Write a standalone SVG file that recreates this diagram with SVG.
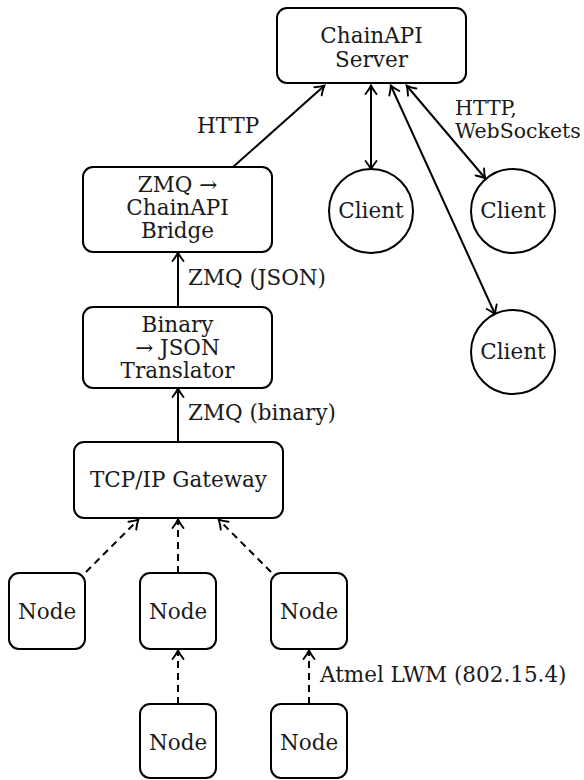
<svg xmlns="http://www.w3.org/2000/svg" width="584" height="780" viewBox="0 0 584 780">
<style>
.box{fill:#fff;stroke:#000;stroke-width:2}
.t{font-family:'DejaVu Serif', 'Liberation Serif', serif;font-size:21.5px;fill:#1a1a1a;text-anchor:middle}
.l{font-family:'DejaVu Serif', 'Liberation Serif', serif;font-size:21.5px;fill:#1a1a1a}
.s{font-size:20.5px}
.c{fill:none;stroke:#000;stroke-width:2}
.d{fill:none;stroke:#000;stroke-width:2;stroke-dasharray:7 5}
</style>
<defs>
<marker id="ah" markerUnits="userSpaceOnUse" markerWidth="16" markerHeight="16" refX="11" refY="8" orient="auto-start-reverse" viewBox="0 0 16 16">
<path d="M3 2.5 Q7.5 6.2 11.5 8 Q7.5 9.8 3 13.5" fill="none" stroke="#000" stroke-width="1.9" stroke-linecap="round"/>
</marker>
</defs>
<g id="connectors">
<line class="c" x1="233" y1="167" x2="324" y2="86" marker-end="url(#ah)"/>
<line class="c" x1="371" y1="86" x2="371" y2="169" marker-start="url(#ah)" marker-end="url(#ah)"/>
<line class="c" x1="407" y1="86" x2="485" y2="178" marker-start="url(#ah)" marker-end="url(#ah)"/>
<line class="c" x1="391" y1="86" x2="495" y2="314" marker-start="url(#ah)" marker-end="url(#ah)"/>
<line class="c" x1="178" y1="307" x2="178" y2="253" marker-end="url(#ah)"/>
<line class="c" x1="178" y1="442" x2="178" y2="389" marker-end="url(#ah)"/>
<line class="d" x1="86" y1="572" x2="138" y2="520" marker-end="url(#ah)"/>
<line class="d" x1="178" y1="573" x2="178" y2="520" marker-end="url(#ah)"/>
<line class="d" x1="271" y1="572" x2="219" y2="520" marker-end="url(#ah)"/>
<line class="d" x1="178" y1="704" x2="178" y2="651" marker-end="url(#ah)"/>
<line class="d" x1="309" y1="704" x2="309" y2="651" marker-end="url(#ah)"/>
<text class="l" x="197" y="133">HTTP</text>
<text class="l s" x="455" y="115">HTTP,</text>
<text class="l s" x="455" y="138">WebSockets</text>
<text class="l" x="188" y="285">ZMQ (JSON)</text>
<text class="l" x="188" y="420">ZMQ (binary)</text>
<text class="l" x="320" y="682">Atmel LWM (802.15.4)</text>
</g>
<g id="server">
<rect class="box" x="277" y="8" width="189" height="75" rx="10"/>
<text class="t" x="371.5" y="43">ChainAPI</text>
<text class="t" x="371.5" y="67">Server</text>
</g>
<g id="client1"><circle class="box" cx="371" cy="211" r="42"/><text class="t" x="371" y="218">Client</text></g>
<g id="client2"><circle class="box" cx="513" cy="211" r="42"/><text class="t" x="513" y="218">Client</text></g>
<g id="client3"><circle class="box" cx="513" cy="352" r="42"/><text class="t" x="513" y="359">Client</text></g>
<g id="bridge">
<rect class="box" x="83" y="167" width="189" height="85" rx="10"/>
<text class="t" x="177.5" y="192">ZMQ →</text>
<text class="t" x="177.5" y="215">ChainAPI</text>
<text class="t" x="177.5" y="238">Bridge</text>
</g>
<g id="translator">
<rect class="box" x="83" y="307" width="189" height="81" rx="10"/>
<text class="t" x="177.5" y="332">Binary</text>
<text class="t" x="177.5" y="355">→ JSON</text>
<text class="t" x="177.5" y="378">Translator</text>
</g>
<g id="gateway">
<rect class="box" x="74" y="442" width="209" height="76" rx="10"/>
<text class="t" x="178.5" y="487">TCP/IP Gateway</text>
</g>
<g id="node1"><rect class="box" x="9" y="573" width="76" height="76" rx="10"/><text class="t" x="47" y="619">Node</text></g>
<g id="node2"><rect class="box" x="140" y="573" width="76" height="76" rx="10"/><text class="t" x="178" y="619">Node</text></g>
<g id="node3"><rect class="box" x="271" y="573" width="76" height="76" rx="10"/><text class="t" x="309" y="619">Node</text></g>
<g id="node4"><rect class="box" x="140" y="704" width="76" height="74" rx="10"/><text class="t" x="178" y="750">Node</text></g>
<g id="node5"><rect class="box" x="271" y="704" width="76" height="74" rx="10"/><text class="t" x="309" y="750">Node</text></g>
</svg>
